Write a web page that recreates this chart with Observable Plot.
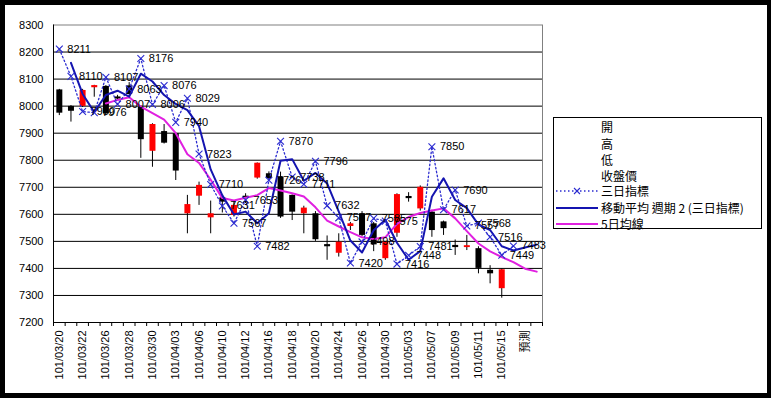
<!DOCTYPE html>
<html>
<head>
<meta charset="utf-8">
<script src="https://cdn.jsdelivr.net/npm/d3@7"></script>
<script src="https://cdn.jsdelivr.net/npm/@observablehq/plot@0.6"></script>
<style>
  html, body { margin: 0; padding: 0; background: #000; width: 771px; height: 398px; overflow: hidden; }
  #wrap { position: relative; width: 771px; height: 398px; }
  #chart { position: absolute; left: 5px; top: 5px; }
  #legend { position: absolute; left: 553px; top: 117px; width: 207px; height: 110px; border: 1px solid #000; background: #fff;
    font-family: "Noto Sans CJK TC", "Liberation Sans", sans-serif; font-size: 12px; color: #000; }
  .row { position: absolute; left: 0; width: 205px; height: 16px; line-height: 16px; }
  .row span { position: absolute; left: 47px; top: 0; white-space: nowrap; }
  .row svg { position: absolute; left: 0; top: 0; }
</style>
</head>
<body>
<div id="wrap">
  <div id="chart"></div>
  <div id="legend"></div>
</div>
<script>
// ---- data ----
const categories = [
  "101/03/20","101/03/21","101/03/22","101/03/23","101/03/26","101/03/27","101/03/28","101/03/29",
  "101/03/30","101/04/02","101/04/03","101/04/05","101/04/06","101/04/09","101/04/10","101/04/11",
  "101/04/12","101/04/13","101/04/16","101/04/17","101/04/18","101/04/19","101/04/20","101/04/23",
  "101/04/24","101/04/25","101/04/26","101/04/27","101/04/30","101/05/02","101/05/03","101/05/04",
  "101/05/07","101/05/08","101/05/09","101/05/10","101/05/11","101/05/14","101/05/15","101/05/16",
  "預測",""
];
const openP  = [8060,7999,7999,8068,8073,8034,8075,7996,7833,7906,7898,7602,7667,7587,7661,7596,7667,7734,7750,7737,
                7670,7602,7602,7488,7456,7555,7602,7565,7436,7530,7666,7620,7608,7572,7485,7477,7473,7393,7325];
const highP  = [8062,8002,8062,8077,8076,8040,8087,8000,7935,7932,7900,7670,7719,7649,7668,7650,7676,7790,7757,7756,
                7672,7630,7610,7520,7528,7570,7610,7570,7500,7676,7680,7705,7615,7575,7505,7522,7480,7410,7398];
const lowP   = [7965,7941,7995,8033,7965,8022,8040,7807,7774,7860,7725,7528,7633,7528,7605,7590,7640,7730,7726,7585,
                7577,7528,7500,7430,7442,7540,7518,7462,7430,7515,7645,7612,7515,7522,7448,7466,7380,7343,7290];
const closeP = [7974,7981,8058,8076,7972,8026,8043,7876,7932,7863,7760,7636,7707,7602,7645,7633,7659,7789,7732,7590,
                7608,7623,7506,7480,7497,7565,7522,7487,7497,7673,7658,7700,7540,7547,7477,7484,7400,7380,7395];
const sanri = [8211,8110,7980,7976,8107,8007,8063,8176,8006,8076,7940,8029,7823,7710,7631,7567,7653,7482,7726,7870,
               7738,7711,7796,7632,7587,7420,7498,7585,7575,7416,7448,7481,7850,7617,7690,7557,7568,7516,7449,7483,
               null,null];
const ma2 = [null,8160,8045,7978,8041,8057,8035,8120,8091,8041,8008,7985,7926,7766,7670,7599,7610,7567,7604,7798,
             7804,7724,7753,7714,7610,7503,7459,7541,7580,7495,7432,7464,7665,7733,7653,7623,7562,7542,7482,7466,
             7477,7488];
const ma5 = [null,null,null,null,8010,8023,8033,7998,7974,7950,7900,7822,7790,7728,7660,7651,7661,7671,7697,7688,
             7678,7666,7626,7577,7555,7534,7515,7509,7515,7565,7590,7605,7614,7622,7585,7538,7492,7463,7442,7423,
             7399,7388];
const yTicks = [7200,7300,7400,7500,7600,7700,7800,7900,8000,8100,8200,8300];
const legendItems = ["開","高","低","收盤價","三日指標","移動平均 週期 2 (三日指標)","5日均線"];

// ---- build ----
const rows = categories.map((c, i) => ({
  i, cat: c,
  open: openP[i] ?? null, high: highP[i] ?? null, low: lowP[i] ?? null, close: closeP[i] ?? null,
  s3: sanri[i], m2: ma2[i], m5: ma5[i]
}));
const candles = rows.filter(d => d.open != null);
const marked = rows.filter(d => d.s3 != null);
const bounds = d3.range(categories.length + 1).map(i => i - 0.5);
const labelIdx = rows.filter(d => d.i % 2 === 0 && d.cat !== "").map(d => d.i);

const RED = "#ff0000", BLUE = "#1414b0", DOT = "#2b2bd0", MAG = "#e020e0";
const FONT = "'Liberation Sans', 'Noto Sans CJK TC', sans-serif";

const chart = Plot.plot({
  width: 762, height: 388,
  marginLeft: 48, marginRight: 225, marginTop: 19.5, marginBottom: 71,
  x: {domain: [-0.5, categories.length - 0.5], axis: null, label: null},
  y: {domain: [7200, 8300], axis: null, label: null},
  style: {background: "#fff", fontFamily: FONT, fontSize: "11px", color: "#000"},
  marks: [
    Plot.gridY(yTicks.slice(1, -1), {stroke: "#000", strokeOpacity: 1}),
    Plot.frame({stroke: "#808080"}),
    Plot.ruleX([-0.5], {stroke: "#000"}),
    Plot.ruleY([7200], {stroke: "#000"}),
    Plot.axisY(yTicks, {tickSize: 0, tickPadding: 10, fontSize: 11, fill: "#000", label: null, tickFormat: d => String(d)}),
    Plot.axisX(bounds, {tickSize: 4, tickFormat: () => "", stroke: "#000", label: null}),
    Plot.axisX(labelIdx, {tickSize: 0, tickPadding: 8, tickRotate: -90, tickFormat: i => categories[i], fontSize: 11, fill: "#000", label: null}),
    // candles
    Plot.ruleX(candles, {x: "i", y1: "low", y2: "high", stroke: "#000", strokeWidth: 1}),
    Plot.ruleX(candles.filter(d => d.close < d.open), {x: "i", y1: "open", y2: "close", stroke: "#000", strokeWidth: 6}),
    Plot.ruleX(candles.filter(d => d.close >= d.open), {x: "i", y1: "open", y2: "close", stroke: RED, strokeWidth: 6}),
    // lines
    Plot.line(rows, {x: "i", y: "m5", stroke: MAG, strokeWidth: 2}),
    Plot.line(rows, {x: "i", y: "s3", stroke: DOT, strokeWidth: 1.3, strokeDasharray: "1.5,2.5"}),
    Plot.line(rows, {x: "i", y: "m2", stroke: BLUE, strokeWidth: 2}),
    Plot.dot(marked, {x: "i", y: "s3", symbol: "times", r: 3.2, stroke: DOT, strokeWidth: 1.1}),
    Plot.text(marked, {x: "i", y: "s3", text: d => String(d.s3), dx: 8, textAnchor: "start", fontSize: 11, fill: "#000"})
  ]
});
document.getElementById("chart").appendChild(chart);

// ---- legend ----
const centers = [9, 26, 42, 58, 73, 89.5, 105.5];
const lg = document.getElementById("legend");
legendItems.forEach((t, k) => {
  const row = document.createElement("div");
  row.className = "row";
  row.style.top = (centers[k] - 8) + "px";
  let sym = "";
  if (k === 4) sym = `<svg width="46" height="16"><line x1="2" x2="44" y1="8" y2="8" stroke="${DOT}" stroke-width="1.3" stroke-dasharray="1.5,2.5"/><path d="M20,5 L26,11 M26,5 L20,11" stroke="${DOT}" stroke-width="1.1"/></svg>`;
  if (k === 5) sym = `<svg width="46" height="16"><line x1="2" x2="44" y1="8" y2="8" stroke="${BLUE}" stroke-width="2"/></svg>`;
  if (k === 6) sym = `<svg width="46" height="16"><line x1="2" x2="44" y1="8" y2="8" stroke="${MAG}" stroke-width="2"/></svg>`;
  row.innerHTML = sym + `<span>${t}</span>`;
  lg.appendChild(row);
});
</script>
</body>
</html>
